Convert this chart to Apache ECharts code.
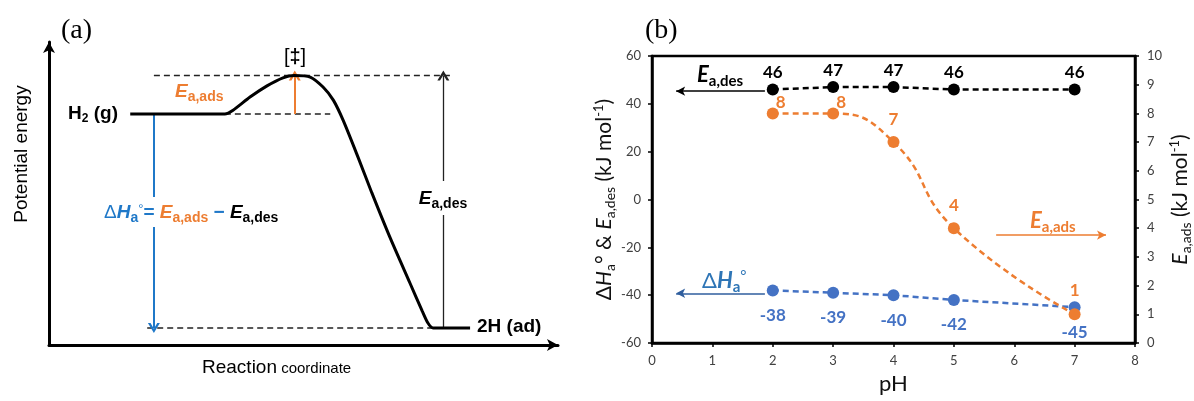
<!DOCTYPE html>
<html>
<head>
<meta charset="utf-8">
<script src="https://cdn.jsdelivr.net/npm/echarts@6/dist/echarts.min.js"></script>
<style>
  html, body { margin: 0; padding: 0; background: #fff; }
  #chart { width: 1194px; height: 401px; }
</style>
</head>
<body>
<div id="chart"></div>
<script>
// ---------- Panel (b): adsorption energetics vs pH ----------
const pH = [2, 3, 4, 5, 7];
const eaDes = [46, 47, 47, 46, 46];        // kJ/mol, left axis
const dHa = [-38, -39, -40, -42, -45];     // kJ/mol, left axis
const eaAds = [8, 8, 7, 4, 1];             // kJ/mol, right axis
const pHRange = [0, 8, 1];                 // min, max, step
const leftRange = [-60, 60, 20];
const rightRange = [0, 10, 1];

// ---------- Panel (a): schematic potential-energy profile (arbitrary units) ----------
const profileX = [15.8, 34.2, 35.8, 39.1, 42.4, 45.5, 47.7, 50.8, 53.3, 55.3, 57.2, 60.1, 62.8, 66.3, 70.2, 72.6, 73.7, 74.7, 81.9];
const profileE = [0, 0, 1.0, 4.4, 7.3, 9.4, 10, 9.6, 7.0, 3.6, -1.6, -11.2, -20.5, -32.0, -43.9, -51.2, -54.3, -55.6, -55.6];
const levelH2 = 0, levelTS = 10, level2H = -55.6;
const guideTopX = [20.4, 78.6];
const guideMidX = [34.2, 54.7];
const guideBotX = [19.1, 74.7];
const arrowAdsX = 47.8, arrowDHX = 20.4, arrowDesX = 76.7;

// ---------- styling helpers ----------
const FA = '"Liberation Sans", Arial, sans-serif';
const FL = 'Lato, "Liberation Sans", sans-serif';
const FS = '"Liberation Serif", "Times New Roman", serif';
const ORANGE = '#ED7D31', BLUE = '#4472C4', BLUE_A = '#1F78C8', BLUE_TXT = '#2E75B6', BLUE_ARW = '#2F5E9E';
// open arrowhead (chevron) pointing along the line
const CHEVRON = 'path://M0,10 L5,0 L10,10 L7.8,10 L5,4.4 L2.2,10 Z';

function tok(size, family, color, extra) {
  return Object.assign({ fontSize: size, fontFamily: family, fill: color, color: color, lineHeight: size + 3 }, extra || {});
}
function subTok(size, family, color, pad, extra) {
  return Object.assign({ fontSize: size, fontFamily: family, fill: color, color: color, lineHeight: size, padding: [pad, 0, 0, 0] }, extra || {});
}
function supTok(size, family, color, pad, extra) {
  return Object.assign({ fontSize: size, fontFamily: family, fill: color, color: color, lineHeight: size, padding: [0, 0, pad, 0] }, extra || {});
}
const BI = { fontWeight: 'bold', fontStyle: 'italic' };
const B = { fontWeight: 'bold' };

const chart = echarts.init(document.getElementById('chart'), null, { renderer: 'canvas' });

const pairs = (xs, ys) => xs.map((x, i) => [x, ys[i]]);
const adsLabelOffsets = [[8, 8.5], [8, 8.5], [0, -3], [0, -3], [0, -4]];

const axisNameRich = {
  n: tok(21, FL, '#111', { lineHeight: 24 }),
  i: tok(21, FL, '#111', { lineHeight: 24, fontStyle: 'italic' }),
  s: subTok(14, FL, '#111', 12),
  p: supTok(13, FL, '#111', 10)
};

const guideStyle = { color: '#222', width: 1.5, type: [6, 4] };
const arrowMark = (color, width, from, to) => ({
  silent: true, symbol: ['none', CHEVRON], symbolSize: [12, 10], label: { show: false },
  lineStyle: { color: color, width: width, type: 'solid' },
  data: [[{ coord: from }, { coord: to }]]
});
const plainArrow = (color, from, to) => ({
  silent: true, symbol: ['none', 'arrow'], symbolSize: [7, 9], label: { show: false },
  lineStyle: { color: color, width: 1.6, type: 'solid' },
  data: [[{ coord: from }, { coord: to }]]
});

const option = {
  animation: false,
  backgroundColor: '#fff',
  grid: [
    { left: 49, top: 42, width: 509, height: 303 },
    { left: 652, top: 56, right: 59, bottom: 58, show: true, borderColor: '#000', borderWidth: 2.5 }
  ],
  xAxis: [
    {
      gridIndex: 0, type: 'value', min: 0, max: 99,
      axisLine: { show: true, onZero: false, symbol: ['none', 'arrow'], symbolSize: [9, 11], lineStyle: { color: '#000', width: 3 } },
      axisTick: { show: false }, axisLabel: { show: false }, splitLine: { show: false }
    },
    {
      gridIndex: 1, type: 'value', min: pHRange[0], max: pHRange[1], interval: pHRange[2],
      name: 'pH', nameLocation: 'middle', nameGap: 30,
      nameTextStyle: { fontFamily: FL, fontSize: 22, color: '#111' },
      axisLine: { show: true, onZero: false, lineStyle: { color: '#000', width: 2.5 } },
      axisTick: { show: true, length: 4, lineStyle: { color: '#000', width: 1.5 } },
      axisLabel: { fontFamily: FL, fontSize: 13, color: '#404040', margin: 11 },
      splitLine: { show: false }
    }
  ],
  yAxis: [
    {
      gridIndex: 0, type: 'value', min: -60, max: 18.7,
      axisLine: { show: true, onZero: false, symbol: ['none', 'arrow'], symbolSize: [9, 11], lineStyle: { color: '#000', width: 3 } },
      axisTick: { show: false }, axisLabel: { show: false }, splitLine: { show: false }
    },
    {
      gridIndex: 1, type: 'value', position: 'left', min: leftRange[0], max: leftRange[1], interval: leftRange[2],
      name: '{n|Δ}{i|H}{s|a}{n|° & }{i|E}{s|a,des}{n| (kJ mol}{p|-1}{n|)}',
      nameLocation: 'middle', nameRotate: 90, nameGap: 36,
      nameTextStyle: { fontFamily: FL, fontSize: 21, color: '#111', rich: axisNameRich },
      axisLine: { show: true, onZero: false, lineStyle: { color: '#000', width: 2.5 } },
      axisTick: { show: true, length: 4, lineStyle: { color: '#000', width: 1.5 } },
      axisLabel: { fontFamily: FL, fontSize: 13, color: '#404040', margin: 11 },
      splitLine: { show: false }
    },
    {
      gridIndex: 1, type: 'value', position: 'right', min: rightRange[0], max: rightRange[1], interval: rightRange[2],
      name: '{i|E}{s|a,ads}{n| (kJ mol}{p|-1}{n|)}',
      nameLocation: 'middle', nameRotate: 90, nameGap: 33,
      nameTextStyle: { fontFamily: FL, fontSize: 21, color: '#111', rich: axisNameRich },
      axisLine: { show: true, onZero: false, lineStyle: { color: '#000', width: 2.5 } },
      axisTick: { show: true, length: 4, lineStyle: { color: '#000', width: 1.5 } },
      axisLabel: { fontFamily: FL, fontSize: 13, color: '#404040', margin: 12 },
      splitLine: { show: false }
    }
  ],
  series: [
    // ----- panel (a) -----
    {
      name: 'profile', type: 'line', xAxisIndex: 0, yAxisIndex: 0,
      data: pairs(profileX, profileE), smooth: 0.25, symbol: 'none', z: 5,
      lineStyle: { color: '#000', width: 3 }
    },
    {
      name: 'guideTop', type: 'line', xAxisIndex: 0, yAxisIndex: 0, symbol: 'none',
      data: guideTopX.map(x => [x, levelTS]), lineStyle: guideStyle,
      markLine: arrowMark('#222', 1.3, [arrowDesX, level2H], [arrowDesX, levelTS])
    },
    {
      name: 'guideMid', type: 'line', xAxisIndex: 0, yAxisIndex: 0, symbol: 'none',
      data: guideMidX.map(x => [x, levelH2]), lineStyle: guideStyle,
      markLine: arrowMark(ORANGE, 2, [arrowAdsX, levelH2], [arrowAdsX, levelTS])
    },
    {
      name: 'guideBot', type: 'line', xAxisIndex: 0, yAxisIndex: 0, symbol: 'none',
      data: guideBotX.map(x => [x, level2H]), lineStyle: guideStyle,
      markLine: arrowMark(BLUE_A, 2, [arrowDHX, levelH2], [arrowDHX, level2H])
    },
    // ----- panel (b) -----
    {
      name: 'Ea,des', type: 'line', xAxisIndex: 1, yAxisIndex: 1,
      data: pairs(pH, eaDes), symbol: 'circle', symbolSize: 12,
      itemStyle: { color: '#000' },
      lineStyle: { color: '#000', width: 2.5, type: [6, 4] },
      label: { show: true, position: 'top', offset: [0, 2.5], fontFamily: FL, fontWeight: 'bold', fontSize: 17, color: '#000' },
      markLine: plainArrow('#000', [1.87, 45.3], [0.4, 45.3])
    },
    {
      name: 'dHa', type: 'line', xAxisIndex: 1, yAxisIndex: 1,
      data: pairs(pH, dHa), symbol: 'circle', symbolSize: 12,
      itemStyle: { color: BLUE },
      lineStyle: { color: BLUE, width: 2.5, type: [6, 4] },
      label: { show: true, position: 'bottom', offset: [0, 5.5], fontFamily: FL, fontWeight: 'bold', fontSize: 17, color: BLUE },
      markLine: plainArrow(BLUE_ARW, [1.87, -39.2], [0.4, -39.2])
    },
    {
      name: 'Ea,ads', type: 'line', xAxisIndex: 1, yAxisIndex: 2,
      data: pH.map((x, i) => ({ value: [x, eaAds[i]], label: { offset: adsLabelOffsets[i] } })),
      symbol: 'circle', symbolSize: 12, smooth: 0.5,
      itemStyle: { color: ORANGE },
      lineStyle: { color: ORANGE, width: 2.5, type: [6, 4] },
      label: { show: true, position: 'top', fontFamily: FL, fontWeight: 'bold', fontSize: 17, color: ORANGE,
               formatter: p => p.value[1] },
      markLine: plainArrow(ORANGE, [5.7, 3.76], [7.52, 3.76])
    }
  ],
  graphic: [
    // panel letters
    { type: 'text', x: 61, y: 31, z: 100, style: { text: '(a)', fontFamily: FS, fontSize: 28, fill: '#000', align: 'left', verticalAlign: 'middle' } },
    { type: 'text', x: 645, y: 31, z: 100, style: { text: '(b)', fontFamily: FS, fontSize: 28, fill: '#000', align: 'left', verticalAlign: 'middle' } },

    // panel (a) annotations
    { type: 'text', x: 295, y: 57, z: 100, style: {
        text: '{n|[}{b|‡}{n|]}', align: 'center', verticalAlign: 'middle',
        rich: { n: tok(20, FA, '#000'), b: tok(20, FA, '#000', B) } } },
    { type: 'text', x: 118, y: 114, z: 100, style: {
        text: '{b|H}{s|2}{b| (g)}', align: 'right', verticalAlign: 'middle',
        rich: { b: tok(19, FA, '#000', B), s: subTok(12, FA, '#000', 9, B) } } },
    { type: 'text', x: 477, y: 327, z: 100, style: {
        text: '{b|2H (ad)}', align: 'left', verticalAlign: 'middle',
        rich: { b: tok(19, FA, '#000', B) } } },
    { type: 'text', x: 175, y: 92, z: 100, style: {
        text: '{e|E}{s|a,ads}', align: 'left', verticalAlign: 'middle',
        rich: { e: tok(19, FA, ORANGE, BI), s: subTok(14, FA, ORANGE, 10, B) } } },
    { type: 'text', x: 101, y: 212, z: 100, style: {
        text: '{d|Δ}{h|H}{hs|a}{o|°}{q|= }{oe|E}{os|a,ads}{m| − }{ke|E}{ks|a,des}',
        align: 'left', verticalAlign: 'middle', backgroundColor: '#fff', padding: [5, 3, 3, 3],
        rich: {
          d: tok(19, FA, BLUE_A), h: tok(19, FA, BLUE_A, BI), hs: subTok(14, FA, BLUE_A, 10, B),
          o: supTok(13, FA, BLUE_A, 8), q: tok(19, FA, BLUE_A, B),
          oe: tok(19, FA, ORANGE, BI), os: subTok(14, FA, ORANGE, 10, B),
          m: tok(19, FA, BLUE_A, B),
          ke: tok(19, FA, '#000', BI), ks: subTok(14, FA, '#000', 10, B)
        } } },
    { type: 'text', x: 443, y: 198, z: 100, style: {
        text: '{e|E}{s|a,des}', align: 'center', verticalAlign: 'middle',
        backgroundColor: '#fff', padding: [7, 6, 5, 6],
        rich: { e: tok(19, FA, '#000', BI), s: subTok(14, FA, '#000', 10, B) } } },
    { type: 'text', x: 22, y: 154, z: 100, rotation: Math.PI / 2, style: {
        text: 'Potential energy', fontFamily: FA, fontSize: 19, fill: '#000', align: 'center', verticalAlign: 'middle' } },
    { type: 'text', x: 202, y: 368, z: 100, style: {
        text: '{r|Reaction}{c| coordinate}', align: 'left', verticalAlign: 'middle',
        rich: { r: tok(19, FA, '#000'), c: subTok(15, FA, '#000', 1) } } },

    // panel (b) series annotations
    { type: 'text', x: 697, y: 75, z: 100, style: {
        text: '{e|E}{s|a,des}', align: 'left', verticalAlign: 'middle',
        rich: { e: tok(22, FL, '#000', BI), s: subTok(15, FL, '#000', 12, B) } } },
    { type: 'text', x: 702, y: 281, z: 100, style: {
        text: '{d|Δ}{h|H}{s|a}{o|°}', align: 'left', verticalAlign: 'middle',
        rich: { d: tok(22, FL, BLUE_TXT), h: tok(22, FL, BLUE_TXT, BI), s: subTok(15, FL, BLUE_TXT, 12, B), o: supTok(15, FL, BLUE_TXT, 10) } } },
    { type: 'text', x: 1030, y: 221, z: 100, style: {
        text: '{e|E}{s|a,ads}', align: 'left', verticalAlign: 'middle',
        rich: { e: tok(22, FL, ORANGE, BI), s: subTok(15, FL, ORANGE, 12, B) } } }
  ]
};

chart.setOption(option);
</script>
</body>
</html>
